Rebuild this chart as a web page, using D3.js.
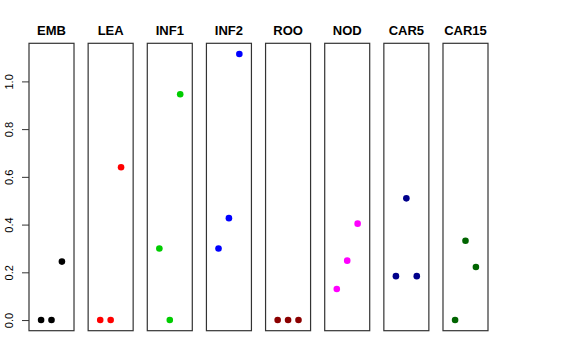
<!DOCTYPE html>
<html>
<head>
<meta charset="UTF-8">
<script src="https://cdnjs.cloudflare.com/ajax/libs/d3/7.8.5/d3.min.js"></script>
<style>
  body { margin: 0; background: #fff; }
  text { font-family: "Liberation Sans", Arial, sans-serif; }
</style>
</head>
<body>
<div id="chart"></div>
<script>
// tissues, one panel each
const tissues = ["EMB", "LEA", "INF1", "INF2", "ROO", "NOD", "CAR5", "CAR15"];
const colors = ["#000000", "#ff0000", "#00cd00", "#0000ff", "#8b0000", "#ff00ff", "#00008b", "#006400"];
// three replicate values per tissue (x = 1, 2, 3)
const rep1 = [0, 0, 0.30, 0.30, 0, 0.13, 0.184, 0];
const rep2 = [0, 0, 0, 0.427, 0, 0.249, 0.51, 0.332];
const rep3 = [0.245, 0.64, 0.946, 1.115, 0, 0.404, 0.184, 0.222];
const yTicks = [0, 0.2, 0.4, 0.6, 0.8, 1.0];

const width = 576, height = 360;
const svg = d3.select("#chart").append("svg")
    .attr("width", width).attr("height", height);

const panel = d3.scaleBand().domain(tissues).range([29, 488]).paddingInner(0.239);
const y = d3.scaleLinear().domain([-0.0446, 1.1596]).range([330.7, 43.3]);
const x = d3.scaleLinear().domain([-0.16, 4.16]).range([0, panel.bandwidth()]);

// y axis on the first panel only
const yAxis = svg.append("g")
    .attr("transform", `translate(${panel(tissues[0])},0)`)
    .call(d3.axisLeft(y).tickValues(yTicks).tickFormat(d3.format(".1f")).tickSize(7));
yAxis.select(".domain").remove();
yAxis.selectAll(".tick line").attr("stroke", "#333");
yAxis.selectAll(".tick text")
    .attr("transform", "rotate(-90)")
    .attr("x", 0).attr("y", -16.5)
    .attr("dy", 0)
    .attr("text-anchor", "middle")
    .attr("font-size", 11)
    .attr("fill", "#000");

tissues.forEach((t, i) => {
  const g = svg.append("g").attr("transform", `translate(${panel(t)},0)`);
  g.append("rect")
      .attr("x", 0).attr("y", y.range()[1])
      .attr("width", panel.bandwidth())
      .attr("height", y.range()[0] - y.range()[1])
      .attr("fill", "none").attr("stroke", "#333").attr("stroke-width", 1.2);
  g.append("text")
      .attr("x", panel.bandwidth() / 2).attr("y", 34.5)
      .attr("text-anchor", "middle")
      .attr("font-size", 13).attr("font-weight", "bold")
      .text(t);
  const vals = [rep1[i], rep2[i], rep3[i]];
  g.selectAll("circle").data(vals).join("circle")
      .attr("cx", (d, j) => x(j + 1))
      .attr("cy", d => y(d))
      .attr("r", 3.3)
      .attr("fill", colors[i]);
});
</script>
</body>
</html>
